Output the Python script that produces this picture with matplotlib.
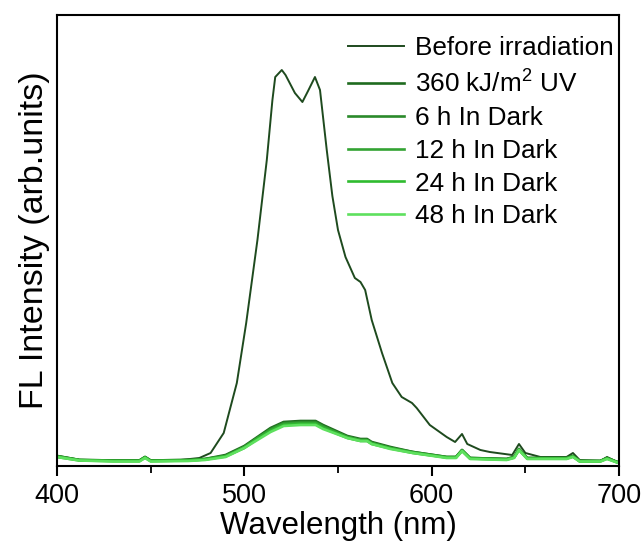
import matplotlib.pyplot as plt
from matplotlib.ticker import MultipleLocator

plt.rcParams['font.family'] = ['Liberation Sans', 'DejaVu Sans']
plt.rcParams['mathtext.fontset'] = 'custom'
plt.rcParams['mathtext.rm'] = 'Liberation Sans'

# Wavelength grids (nm) and FL intensities (arb. units)
wl_before = [400, 412, 434, 444, 447, 450, 466, 476, 482, 489, 496, 501, 507, 512, 515,
             516.5, 520, 522, 527, 531, 534, 537.7, 540.4, 544, 547, 550, 554, 559, 562,
             564.5, 568, 573.5, 579, 584, 589.5, 592, 599, 608, 612.5, 616.2, 619, 626,
             631, 643, 646.6, 650, 658, 672, 675.4, 679, 690, 693.6, 699, 700]
fl_before = [10, 6, 6, 5.5, 9, 5.5, 6, 8, 13, 33, 83, 143, 226, 306, 366,
             389, 396, 391, 373, 364, 375, 389, 376, 316, 270, 236, 209, 188, 184,
             176, 146, 113, 83, 69, 63, 58, 41, 29, 24, 32, 22, 16,
             14, 11, 22, 13, 9, 9, 13, 6, 5, 9, 4, 4]

wl_dark = [400, 412, 430, 444, 447, 450, 470, 479, 490, 500, 507, 514, 521, 530, 538,
           542, 555, 562, 565.5, 568, 578, 590, 608, 613, 616.2, 620.5, 640, 644, 646.6,
           651, 672, 675.4, 679, 690, 693.6, 699, 700]
fl_uv = [10, 6, 5.5, 5.5, 9, 5.5, 6, 7, 11, 20, 29, 38, 44, 45, 45,
         41, 30, 27, 27, 24, 19, 14, 9, 9, 16, 8, 7, 9, 17,
         8, 8, 10, 5, 5, 8, 4, 4]
fl_6h = [10, 6, 5.5, 5.5, 9, 5.5, 6, 7, 10, 19, 28, 37, 43, 44, 44,
         40, 29, 26, 26, 23, 18, 14, 9, 9, 16, 8, 7, 9, 17,
         8, 8, 10, 5, 5, 8, 4, 4]
fl_12h = [9.5, 6, 5, 5, 8.5, 5, 5.5, 6.5, 10, 19, 28, 36, 42, 43, 43,
          39, 29, 26, 26, 23, 18, 13.5, 8.5, 8.5, 15.5, 7.5, 6.5, 8.5, 16.5,
          7.5, 7.5, 9.5, 5, 5, 7.5, 4, 4]
fl_24h = [9, 5.5, 5, 5, 8.5, 5, 5.5, 6.5, 9.5, 18, 27, 35, 41, 42, 42,
          38, 28, 25, 25, 22, 17.5, 13, 8.5, 8.5, 15, 7.5, 6.5, 8.5, 16,
          7.5, 7.5, 9.5, 4.5, 4.5, 7.5, 3.5, 3.5]
fl_48h = [9, 5.5, 4.5, 4.5, 8, 4.5, 5, 6, 9, 18, 26, 34, 40, 41, 41,
          37, 28, 25, 25, 22, 17, 13, 8, 8, 15, 7, 6, 8, 16,
          7, 7, 9, 4.5, 4.5, 7, 3.5, 3.5]

labels = ['Before irradiation', '360 kJ/m$^2$ UV', '6 h In Dark',
          '12 h In Dark', '24 h In Dark', '48 h In Dark']
colors = ['#1e4a1e', '#1f6b1f', '#2a8a2a', '#33a333', '#2fbb2f', '#5ee05e']

fig = plt.figure(figsize=(6.43, 5.44), dpi=100)
ax = fig.add_axes([0.0886, 0.1434, 0.8741, 0.829])

ax.plot(wl_before, fl_before, color=colors[0], lw=1.4, label=labels[0])
series = [fl_uv, fl_6h, fl_12h, fl_24h, fl_48h]
for vals, c, lab in zip(series, colors[1:], labels[1:]):
    ax.plot(wl_dark, vals, color=c, lw=1.9, label=lab)

ax.set_xlim(400, 700)
ax.set_ylim(0, 451)
ax.xaxis.set_major_locator(MultipleLocator(100))
ax.xaxis.set_minor_locator(MultipleLocator(50))
ax.tick_params(axis='x', which='major', direction='out', length=7.5, width=1.5,
               labelsize=19.5, pad=5)
ax.tick_params(axis='x', which='minor', direction='out', length=5, width=1.3)
ax.set_yticks([])
for sp in ax.spines.values():
    sp.set_linewidth(1.5)

ax.set_xlabel('Wavelength (nm)', fontsize=22.5, labelpad=1)
ax.set_ylabel('FL Intensity (arb.units)', fontsize=24.5, labelpad=5)

ax.legend(loc='upper right', bbox_to_anchor=(0.99, 0.953), frameon=False,
          fontsize=18.8, handlelength=2.15, handletextpad=0.4, labelspacing=0.34,
          borderaxespad=0, borderpad=0)

plt.savefig('out.png', dpi=100)
